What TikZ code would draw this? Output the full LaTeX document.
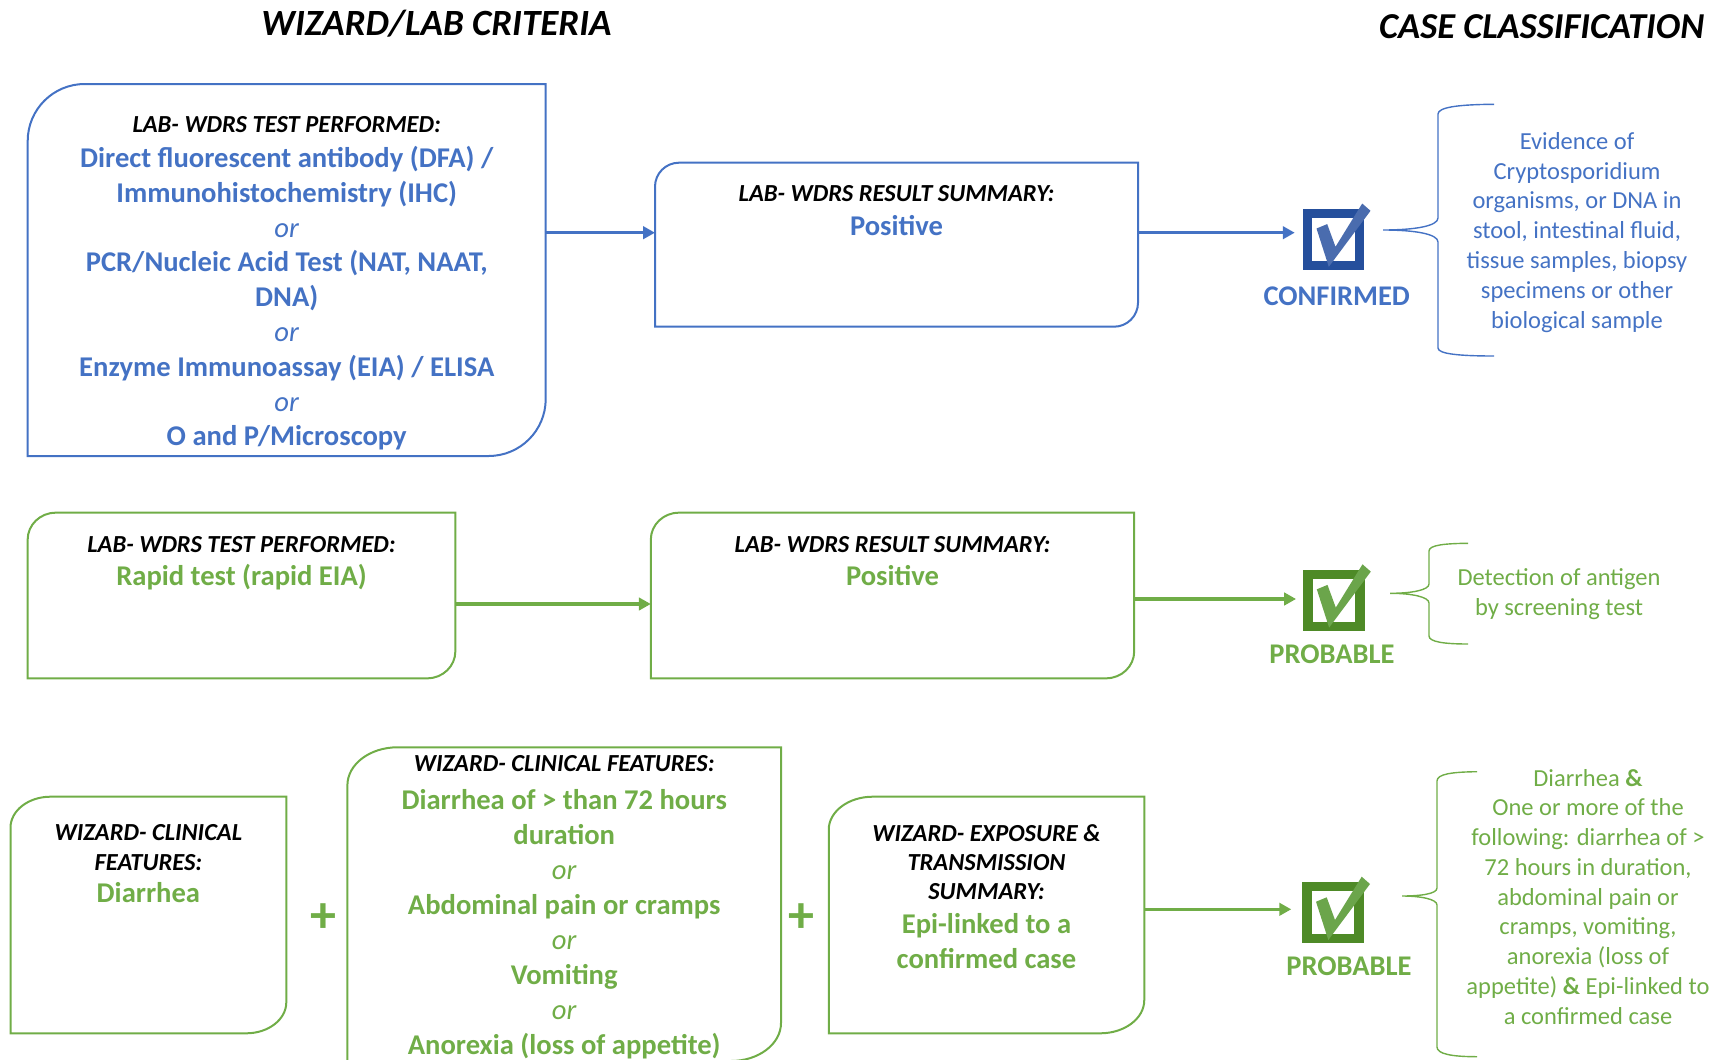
\documentclass[tikz,border=0pt]{standalone}
\usepackage{fontspec}
\setmainfont{Carlito}
\usetikzlibrary{arrows.meta}

\definecolor{cblue}{HTML}{4472C4}
\definecolor{cgreen}{HTML}{70AD47}
\definecolor{ckbluefr}{HTML}{254F9C}
\definecolor{ckbluemk}{HTML}{4A6CAE}
\definecolor{ckgreenfr}{HTML}{4E8A27}
\definecolor{ckgreenmk}{HTML}{6BA54B}

% header line inside a box
\newcommand\hdr{\fontsize{24.5pt}{29pt}\selectfont\bfseries\itshape\color{black}}
% the italic "or" between alternatives
\newcommand\orw{{\mdseries\itshape or}}

% outline of a box: rounded top-left and bottom-right corners
% #1 node, #2 colour, #3 x radius, #4 y radius
\newcommand\drawbox[4]{%
  \draw[boxline, draw=#2] ([yshift=-#4pt]#1.north west)
    arc[start angle=180, end angle=90, x radius=#3pt, y radius=#4pt]
    -- (#1.north east) -- ([yshift=#4pt]#1.south east)
    arc[start angle=0, end angle=-90, x radius=#3pt, y radius=#4pt]
    -- (#1.south west) -- cycle;}

% tick drawn over a checkbox node
\newcommand\tickmark[2]{%
  \fill[#2] ([shift={(-17,-11)}]#1.center) -- ([shift={(-6.3,-15.4)}]#1.center)
    -- ([shift={(2,7.3)}]#1.center) -- ([shift={(28.7,-36)}]#1.center)
    -- ([shift={(37,-28.7)}]#1.center) -- ([shift={(-4.7,27.3)}]#1.center) -- cycle;}

\tikzset{
  frame/.style={rectangle, draw=none, inner sep=0pt, outer sep=0pt},
  boxline/.style={line width=2pt},
  arr/.style={line width=3.5pt, -{Triangle[length=12pt,width=12.5pt]}},
  ckbox/.style={rectangle, minimum size=52pt, inner sep=0pt, line width=9.5pt},
  brace/.style={line width=1.4pt},
  title/.style={anchor=base, font=\fontsize{37pt}{44pt}\selectfont\bfseries\itshape},
  status/.style={anchor=base, font=\fontsize{28.5pt}{34pt}\selectfont\bfseries},
  plus/.style={font=\fontsize{52pt}{56pt}\selectfont\bfseries, text=cgreen, inner sep=0pt},
  side/.style={anchor=base, inner sep=0pt},
  body/.style={anchor=base, inner sep=0pt},
}

\begin{document}
\begin{tikzpicture}[x=1pt, y=-1pt]
\useasboundingbox (0,0) rectangle (1735,1060);

% column titles
\node[title] (t1) at (436.5,35) {WIZARD/LAB CRITERIA};
\node[title, font=\fontsize{36.5pt}{44pt}\selectfont\bfseries\itshape] (t2) at (1541.7,38.5) {CASE CLASSIFICATION};

% ---------- confirmed ----------
\node[frame, minimum width=518pt, minimum height=372pt] (b1) at (286.7,270) {};
\drawbox{b1}{cblue}{57}{57}
\node[body, text=cblue, font=\fontsize{28.6pt}{34.8pt}\selectfont\bfseries] (b1t) at (286.7,132.7)
  {\begin{tabular}[t]{@{}c@{}}
   {\hdr LAB- WDRS TEST PERFORMED:}\\
   Direct fluorescent antibody (DFA) /\\
   Immunohistochemistry (IHC)\\
   \orw\\
   PCR/Nucleic Acid Test (NAT, NAAT,\\
   DNA)\\
   \orw\\
   Enzyme Immunoassay (EIA) / ELISA\\
   \orw\\
   O and P/Microscopy
   \end{tabular}};

\node[frame, minimum width=483pt, minimum height=164pt] (b2) at (896.5,244.7) {};
\drawbox{b2}{cblue}{24}{24}
\node[body, text=cblue, font=\fontsize{28.6pt}{33.3pt}\selectfont\bfseries] (b2t) at (896.5,201.7)
  {\begin{tabular}[t]{@{}c@{}}
   {\hdr LAB- WDRS RESULT SUMMARY:}\\
   Positive
   \end{tabular}};

\node[ckbox, draw=ckbluefr] (chk1) at (1333.5,239.5) {};
\tickmark{chk1}{ckbluemk}
\node[status, text=cblue] (s1) at (1336.7,305) {CONFIRMED};

\draw[arr, cblue] ([yshift=12pt]b1.east |- b2.west) -- ([yshift=12pt]b2.west);
\draw[arr, cblue, shorten >=8pt] ([yshift=6.8pt]b2.east |- chk1.west) -- ([yshift=6.8pt]chk1.west);

\draw[brace, cblue] (1494,104.3) .. controls (1460,104.5) and (1438,107) .. (1438,114)
  -- (1438,218) .. controls (1438,226) and (1415,230) .. (1383,230)
  .. controls (1415,230) and (1438,234) .. (1438,242)
  -- (1438,348) .. controls (1438,354) and (1460,356) .. (1494,356);
\node[side, text=cblue, font=\fontsize{24.5pt}{29.8pt}\selectfont] (d1) at (1577,149.3)
  {\begin{tabular}[t]{@{}c@{}}
   Evidence of\\
   Cryptosporidium\\
   organisms, or DNA in\\
   stool, intestinal fluid,\\
   tissue samples, biopsy\\
   specimens or other\\
   biological sample
   \end{tabular}};

% ---------- probable: laboratory ----------
\node[frame, minimum width=427.7pt, minimum height=165.6pt] (b3) at (241.5,595.5) {};
\drawbox{b3}{cgreen}{28}{27}
\node[body, text=cgreen, font=\fontsize{28.6pt}{32.7pt}\selectfont\bfseries] (b3t) at (241.5,552.3)
  {\begin{tabular}[t]{@{}c@{}}
   {\hdr LAB- WDRS TEST PERFORMED:}\\
   Rapid test (rapid EIA)
   \end{tabular}};

\node[frame, minimum width=483.4pt, minimum height=165.6pt] (b4) at (892.5,595.5) {};
\drawbox{b4}{cgreen}{28}{27}
\node[body, text=cgreen, font=\fontsize{28.6pt}{32.7pt}\selectfont\bfseries] (b4t) at (892.5,552.3)
  {\begin{tabular}[t]{@{}c@{}}
   {\hdr LAB- WDRS RESULT SUMMARY:}\\
   Positive
   \end{tabular}};

\node[ckbox, draw=ckgreenfr] (chk2) at (1333.8,600.3) {};
\tickmark{chk2}{ckgreenmk}
\node[status, text=cgreen] (s2) at (1332,663.3) {PROBABLE};

\draw[arr, cgreen] ([yshift=-8.5pt]b3.east |- b4.west) -- ([yshift=-8.5pt]b4.west);
\draw[arr, cgreen, shorten >=7pt] ([yshift=1.3pt]b4.east |- chk2.west) -- ([yshift=1.3pt]chk2.west);

\draw[brace, cgreen] (1468,543.3) .. controls (1445,543.5) and (1429,545) .. (1429,551)
  -- (1429,584) .. controls (1429,590) and (1412,593.3) .. (1390,593.3)
  .. controls (1412,593.3) and (1429,597) .. (1429,603)
  -- (1429,636) .. controls (1429,642) and (1445,644) .. (1468,644);
\node[side, text=cgreen, font=\fontsize{24.5pt}{30pt}\selectfont] (d2) at (1559,585.7)
  {\begin{tabular}[t]{@{}c@{}}
   Detection of antigen\\
   by screening test
   \end{tabular}};

% ---------- probable: clinical and epi-link ----------
\node[frame, minimum width=275.8pt, minimum height=236.6pt] (b5) at (148.4,915) {};
\drawbox{b5}{cgreen}{40}{31}
\node[body, text=cgreen, font=\fontsize{28.6pt}{30pt}\selectfont\bfseries] (b5t) at (148.4,840)
  {\begin{tabular}[t]{@{}c@{}}
   {\hdr WIZARD- CLINICAL}\\
   {\hdr FEATURES:}\\[2.3pt]
   Diarrhea
   \end{tabular}};

\node[plus] (p1) at (323.8,918.3) {+};

\node[frame, minimum width=433.6pt, minimum height=313.7pt] (b6) at (564.2,904.15) {};
\drawbox{b6}{cgreen}{50}{38}
\node[body, text=cgreen, font=\fontsize{28.6pt}{35pt}\selectfont\bfseries] (b6t) at (564.2,771.7)
  {\begin{tabular}[t]{@{}c@{}}
   {\hdr WIZARD- CLINICAL FEATURES:}\\[2.6pt]
   Diarrhea of > than 72 hours\\
   duration\\
   \orw\\
   Abdominal pain or cramps\\
   \orw\\
   Vomiting\\
   \orw\\
   Anorexia (loss of appetite)
   \end{tabular}};

\node[plus] (p2) at (801.5,918.3) {+};

\node[frame, minimum width=315.5pt, minimum height=236.6pt] (b7) at (986.5,915) {};
\drawbox{b7}{cgreen}{44}{33}
\node[body, text=cgreen, font=\fontsize{28.6pt}{29.3pt}\selectfont\bfseries] (b7t) at (986.5,841)
  {\begin{tabular}[t]{@{}c@{}}
   {\hdr WIZARD- EXPOSURE \&}\\
   {\hdr TRANSMISSION}\\
   {\hdr SUMMARY:}\\[4.7pt]
   Epi-linked to a\\[5.7pt]
   confirmed case
   \end{tabular}};

\node[ckbox, draw=ckgreenfr] (chk3) at (1333,912.7) {};
\tickmark{chk3}{ckgreenmk}
\node[status, text=cgreen] (s3) at (1349,975) {PROBABLE};

\draw[arr, cgreen, shorten >=11pt] ([yshift=3.4pt]b7.east |- chk3.west) -- ([yshift=3.4pt]chk3.west);

\draw[brace, cgreen] (1477,771.7) .. controls (1452,772) and (1437,774) .. (1437,781)
  -- (1437,888) .. controls (1437,894) and (1420,896) .. (1402,896)
  .. controls (1420,896) and (1437,899) .. (1437,905)
  -- (1437,1047) .. controls (1437,1054) and (1452,1056.7) .. (1477,1056.7);
\node[side, text=cgreen, font=\fontsize{24.5pt}{29.75pt}\selectfont] (d3) at (1588,786)
  {\begin{tabular}[t]{@{}c@{}}
   Diarrhea \textbf{\&}\\
   One or more of the\\
   following: diarrhea of >\\
   72 hours in duration,\\
   abdominal pain or\\
   cramps, vomiting,\\
   anorexia (loss of\\
   appetite) \textbf{\&} Epi-linked to\\
   a confirmed case
   \end{tabular}};
\end{tikzpicture}
\end{document}
